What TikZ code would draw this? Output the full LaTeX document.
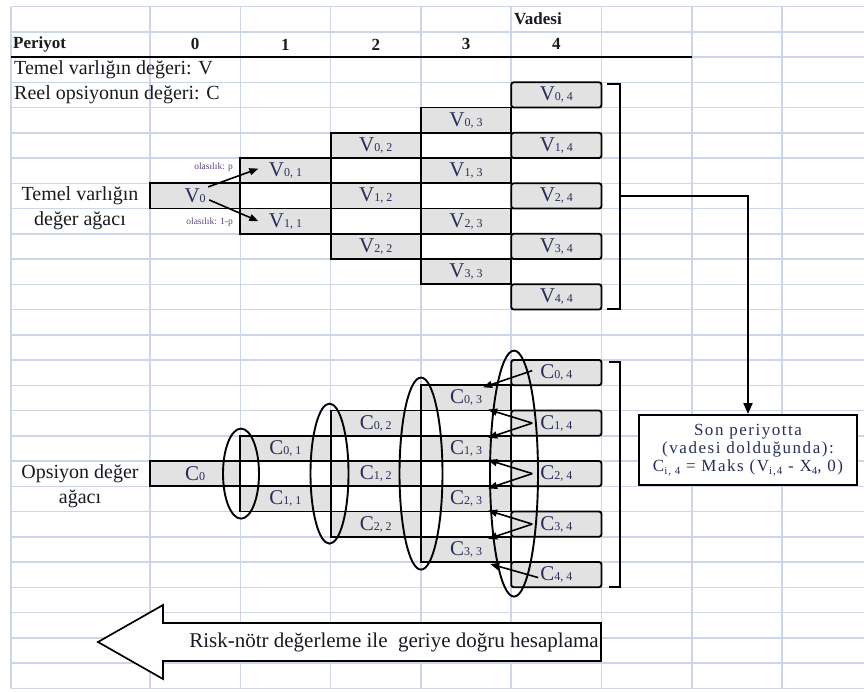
\documentclass[tikz,border=0pt]{standalone}
\usepackage{fontspec}
\setmainfont{Liberation Serif}
\usetikzlibrary{arrows.meta,calc}
\definecolor{GridBlue}{RGB}{205,214,232}
\definecolor{CellGray}{RGB}{226,226,226}
\definecolor{InkNavy}{RGB}{40,46,90}
\definecolor{InkDark}{RGB}{26,26,34}
\definecolor{ProbPurple}{RGB}{90,66,130}
\newcommand{\idx}[2]{#1{\fontsize{12}{12}\selectfont #2}}
\newcommand{\lowidx}[1]{\raisebox{-.45ex}{\fontsize{11}{11}\selectfont #1}}
\tikzset{
  >={Triangle[length=9pt,width=7pt]},
  cell/.style={draw=black,line width=1.9pt,fill=CellGray,minimum width=90.3pt,minimum height=25.25pt,inner sep=0pt,text=InkNavy,font=\fontsize{21}{21}\selectfont},
  lastcell/.style={cell,rounded corners=2.5pt},
  hdr/.style={font=\bfseries\fontsize{17}{17}\selectfont,text=InkDark,inner sep=0pt},
  rowlabel/.style={font=\fontsize{20}{25.25}\selectfont,text=InkDark,align=center,inner sep=0pt},
  prob/.style={font=\fontsize{9.5}{9.5}\selectfont,text=ProbPurple,inner sep=0pt,anchor=east},
  tree/.style={->,line width=1.6pt},
  ring/.style={line width=1.9pt},
  brace/.style={line width=1.9pt},
  link/.style={-{Triangle[length=11pt,width=9pt]},line width=1.9pt},
  note/.style={draw=black,line width=1.9pt,fill=white,align=center,text=InkNavy,minimum width=218pt,minimum height=70pt,inner sep=0pt,font=\fontsize{17}{18}\selectfont\addfontfeatures{LetterSpace=9}}
}

\begin{document}
\begin{tikzpicture}[x=1pt,y=-1pt]
  \useasboundingbox (0,0) rectangle (864,691);
  \foreach \gx in {11,150,240.3,330.6,420.9,511.2,601.5,691.8,782.1}
    \draw[GridBlue,line width=1.5pt] (\gx,6.5) -- (\gx,688.25);
  \foreach \gy in {0,...,27}
    \draw[GridBlue,line width=1.5pt] (11,{6.5+25.25*\gy}) -- (864,{6.5+25.25*\gy});
  \draw[line width=1.9pt] (11,57) -- (691.8,57);

  \node[hdr,anchor=west] (vadesi) at (514,19.1) {Vadesi};
  \node[hdr,anchor=west] (periyot) at (13,44.4) {Periyot};
  \node[hdr] (p0) at (195.15,44.4) {0};
  \node[hdr] (p1) at (285.45,44.4) {1};
  \node[hdr] (p2) at (375.75,44.4) {2};
  \node[hdr] (p3) at (466.05,44.4) {3};
  \node[hdr] (p4) at (556.35,44.4) {4};
  \node[rowlabel,anchor=west] (vdef) at (14,69.9) {Temel varlığın değeri: V};
  \node[rowlabel,anchor=west] (cdef) at (14,95.1) {Reel opsiyonun değeri: C};
  \node[rowlabel] (vtree) at (80,208.5) {Temel varlığın\\değer ağacı};
  \node[rowlabel] (ctree) at (80,486.3) {Opsiyon değer\\ağacı};

  \node[cell] (v0) at (195.15,195.9) {\idx{V}{0}};
  \node[cell] (v01) at (285.45,170.6) {\idx{V}{0, 1}};
  \node[cell] (v11) at (285.45,221.1) {\idx{V}{1, 1}};
  \node[cell] (v02) at (375.75,145.4) {\idx{V}{0, 2}};
  \node[cell] (v12) at (375.75,195.9) {\idx{V}{1, 2}};
  \node[cell] (v22) at (375.75,246.4) {\idx{V}{2, 2}};
  \node[cell] (v03) at (466.05,120.1) {\idx{V}{0, 3}};
  \node[cell] (v13) at (466.05,170.6) {\idx{V}{1, 3}};
  \node[cell] (v23) at (466.05,221.1) {\idx{V}{2, 3}};
  \node[cell] (v33) at (466.05,271.6) {\idx{V}{3, 3}};
  \node[lastcell] (v04) at (556.35,94.9) {\idx{V}{0, 4}};
  \node[lastcell] (v14) at (556.35,145.4) {\idx{V}{1, 4}};
  \node[lastcell] (v24) at (556.35,195.9) {\idx{V}{2, 4}};
  \node[lastcell] (v34) at (556.35,246.4) {\idx{V}{3, 4}};
  \node[lastcell] (v44) at (556.35,296.9) {\idx{V}{4, 4}};
  \node[prob] (pup) at (233,167) {olasılık: p};
  \node[prob] (pdown) at (233,222) {olasılık: 1-p};
  \draw[tree] ($(v0.center)+(13,-9)$) -- ($(v01.west)+(19,-2)$);
  \draw[tree] ($(v0.center)+(14,4)$) -- ($(v11.west)+(19,0)$);

  \node[cell] (c0) at (195.15,473.6) {\idx{C}{0}};
  \node[cell] (c01) at (285.45,448.4) {\idx{C}{0, 1}};
  \node[cell] (c11) at (285.45,498.9) {\idx{C}{1, 1}};
  \node[cell] (c02) at (375.75,423.1) {\idx{C}{0, 2}};
  \node[cell] (c12) at (375.75,473.6) {\idx{C}{1, 2}};
  \node[cell] (c22) at (375.75,524.1) {\idx{C}{2, 2}};
  \node[cell] (c03) at (466.05,397.9) {\idx{C}{0, 3}};
  \node[cell] (c13) at (466.05,448.4) {\idx{C}{1, 3}};
  \node[cell] (c23) at (466.05,498.9) {\idx{C}{2, 3}};
  \node[cell] (c33) at (466.05,549.4) {\idx{C}{3, 3}};
  \node[lastcell] (c04) at (556.35,372.6) {\idx{C}{0, 4}};
  \node[lastcell] (c14) at (556.35,423.1) {\idx{C}{1, 4}};
  \node[lastcell] (c24) at (556.35,473.6) {\idx{C}{2, 4}};
  \node[lastcell] (c34) at (556.35,524.1) {\idx{C}{3, 4}};
  \node[lastcell] (c44) at (556.35,574.6) {\idx{C}{4, 4}};
  \draw[ring] (241,473.6) ellipse (18 and 45);
  \draw[ring] (329.5,473.6) ellipse (19 and 70);
  \draw[ring] (421,473.6) ellipse (21.5 and 96);
  \draw[ring] (514,473.6) ellipse (24 and 123);
  \draw[tree] ($(c04.west)+(22,-2)$) -- ($(c03.north east)+(-29,3)$);
  \draw[tree] ($(c14.west)+(22,0)$) -- ($(c03.south east)+(-24,-2)$);
  \draw[tree] ($(c14.west)+(22,0)$) -- ($(c13.north east)+(-24,3)$);
  \draw[tree] ($(c24.west)+(22,0)$) -- ($(c13.south east)+(-24,-2)$);
  \draw[tree] ($(c24.west)+(22,0)$) -- ($(c23.north east)+(-24,3)$);
  \draw[tree] ($(c34.west)+(22,0)$) -- ($(c23.south east)+(-24,-2)$);
  \draw[tree] ($(c34.west)+(22,0)$) -- ($(c33.north east)+(-24,3)$);
  \draw[tree] ($(c44.west)+(28,3)$) -- ($(c33.south east)+(-22,1)$);

  \draw[brace] (607,84) -- (620,84) -- (620,309) -- (607,309);
  \draw[brace] (609,362) -- (620,362) -- (620,587) -- (609,587);
  \coordinate (vmid) at (620,196);
  \node[note] (son) at (748,450) {Son periyotta\\(vadesi dolduğunda):\\C\lowidx{i, 4} = Maks (V\lowidx{i,4} - X\lowidx{4}, 0)};
  \draw[link] (vmid) -| (son.north);

  \draw[line width=1.7pt,fill=white] (98,642) -- (163,605) -- (163,623) -- (601,623) -- (601,661) -- (163,661) -- (163,679) -- cycle;
  \node[rowlabel,font=\fontsize{21}{21}\selectfont] (back) at (394,642) {Risk-nötr değerleme ile\ \ geriye doğru hesaplama};
\end{tikzpicture}
\end{document}
